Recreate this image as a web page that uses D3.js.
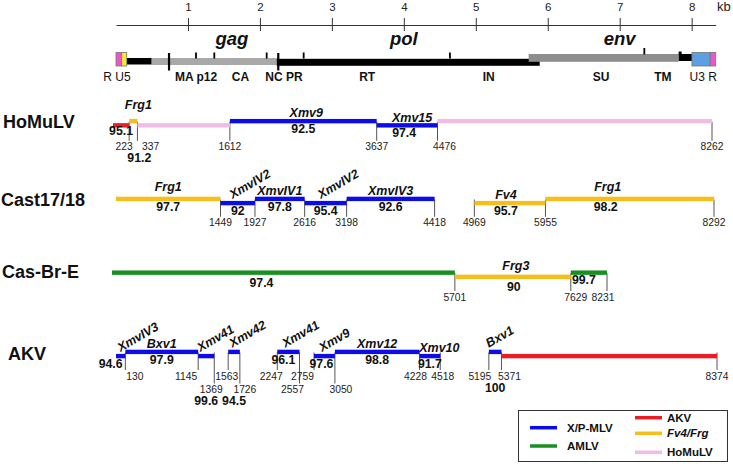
<!DOCTYPE html>
<html><head><meta charset="utf-8">
<script src="https://cdn.jsdelivr.net/npm/d3@7"></script>
<style>body{margin:0;background:#fff}svg{display:block}</style>
</head><body><script>
// ================= DATA =================
const axisTicksKb = [1, 2, 3, 4, 5, 6, 7, 8];
const axisUnit = "kb";

// genome map (kb)
const genomeRegionKind    = ["R", "U5", "leader", "gag", "pol", "env", "tail", "U3", "R"];
const genomeRegionStartKb = [0, 0.079, 0.149, 0.496, 2.233, 5.735, 7.820, 8.004, 8.255];
const genomeRegionEndKb   = [0.079, 0.149, 0.496, 2.233, 5.888, 7.820, 8.004, 8.255, 8.334];
const genomeTickKb   = [0.737, 1.112, 1.366, 2.094, 2.255, 2.608, 4.641, 7.342, 7.840];
const genomeTickKind = ["long", "short", "short", "short", "long", "short", "short", "env", "notch"];
const geneNames  = ["gag", "pol", "env"];
const geneNameKb = [1.61, 4.0, 7.0];
const proteinLabels  = ["R U5", "MA p12", "CA", "NC PR", "RT", "IN", "SU", "TM", "U3 R"];
const proteinLabelKb = [0.014, 1.112, 1.73, 2.335, 3.49, 5.18, 6.74, 7.6, 8.16];

const rowNames = ["HoMuLV", "Cast17/18", "Cas-Br-E", "AKV"];

const homulvStart    = [0, 223, 337, 1612, 3637, 4476];
const homulvEnd      = [223, 337, 1612, 3637, 4476, 8262];
const homulvSource   = ["AKV", "Fv4/Frg", "HoMuLV", "X/P-MLV", "X/P-MLV", "HoMuLV"];
const homulvGene     = ["", "Frg1", "", "Xmv9", "Xmv15", ""];
const homulvIdentity = ["95.1", "91.2", "", "92.5", "97.4", ""];
const homulvPositions = [223, 337, 1612, 3637, 4476, 8262];

const castStart    = [0, 1449, 1927, 2616, 3198, 4969, 5955];
const castEnd      = [1449, 1927, 2616, 3198, 4418, 5955, 8292];
const castSource   = ["Fv4/Frg", "X/P-MLV", "X/P-MLV", "X/P-MLV", "X/P-MLV", "Fv4/Frg", "Fv4/Frg"];
const castGene     = ["Frg1", "XmvIV2", "XmvIV1", "XmvIV2", "XmvIV3", "Fv4", "Frg1"];
const castIdentity = ["97.7", "92", "97.8", "95.4", "92.6", "95.7", "98.2"];
const castPositions = [1449, 1927, 2616, 3198, 4418, 4969, 5955, 8292];

const casbreStart    = [0, 5701, 7629];
const casbreEnd      = [5701, 7629, 8231];
const casbreSource   = ["AMLV", "Fv4/Frg", "AMLV"];
const casbreGene     = ["", "Frg3", ""];
const casbreIdentity = ["97.4", "90", "99.7"];
const casbrePositions = [5701, 7629, 8231];

const akvStart    = [0, 130, 1145, 1563, 2247, 2759, 3050, 4228, 5195, 5371];
const akvEnd      = [130, 1145, 1369, 1726, 2557, 3050, 4228, 4518, 5371, 8374];
const akvSource   = ["X/P-MLV", "X/P-MLV", "X/P-MLV", "X/P-MLV", "X/P-MLV", "X/P-MLV", "X/P-MLV", "X/P-MLV", "X/P-MLV", "AKV"];
const akvGene     = ["XmvIV3", "Bxv1", "Xmv41", "Xmv42", "Xmv41", "Xmv9", "Xmv12", "Xmv10", "Bxv1", ""];
const akvIdentity = ["94.6", "97.9", "99.6", "94.5", "96.1", "97.6", "98.8", "91.7", "100", ""];
const akvPositions = [130, 1145, 1369, 1563, 1726, 2247, 2557, 2759, 3050, 4228, 4518, 5195, 5371, 8374];

const legendNames = ["X/P-MLV", "AMLV", "AKV", "Fv4/Frg", "HoMuLV"];

// ================= STYLE / LAYOUT =================
const W = 733, H = 464;
const FONT = "'Liberation Sans', Arial, Helvetica, sans-serif";
const sourceColor = {
  "X/P-MLV": "#0c0ce8", "AMLV": "#17901f", "AKV": "#ec1c24",
  "Fv4/Frg": "#f7bd1a", "HoMuLV": "#f1bce3"
};
const regionStyle = {
  "R":      {y: 52.5, h: 13.5, fill: "#ee55cc", stroke: "#777"},
  "U5":     {y: 52.5, h: 13.5, fill: "#f4ee22", stroke: "#777"},
  "U3":     {y: 52.5, h: 13.5, fill: "#5d9fe0", stroke: "#777"},
  "leader": {y: 58,   h: 6.5,  fill: "#000"},
  "gag":    {y: 58,   h: 7,    fill: "#a8a8a8"},
  "pol":    {y: 58.8, h: 7,    fill: "#000"},
  "env":    {y: 54,   h: 7.8,  fill: "#8e8e8e"},
  "tail":   {y: 54,   h: 7,    fill: "#000"}
};
const regionOrder = ["leader", "gag", "pol", "env", "tail", "R", "U5", "U3"];
const tickStyle = {
  long:  {y1: 53, y2: 70.5, w: 2.2},
  short: {y1: 52.5, y2: 58.5, w: 1.8},
  env:   {y1: 48, y2: 54.5, w: 1.8},
  notch: {y1: 51.5, y2: 55, w: 3}
};
const LEVEL = 2.1, BAR_H = 4.4;

const rowLayout = [
  { base: 123.25, x0: 113, x1: 712, labelX: 3, labelDy: 4.5, posDy: 27,
    levels: [-1, 1, -1, 1, -1, 1],
    gene: {1: {dx: 5, dy: -8}, 3: {dx: 3}, 4: {dx: 5}},
    ident: {0: {dy: -2.5}, 1: {dx: 6, dy: 29.5}, 4: {dx: -3}},
    pos: {223: {anchor: "end", dx: 3.5}, 337: {anchor: "start", dx: 4.5}, 4476: {dx: 7}} },
  { base: 201, x0: 116, x1: 714, labelX: 1, labelDy: 5.3, posDy: 25.3,
    levels: [1, -1, 1, -1, 1, -1, 1],
    gene: {0: {dy: -4}, 1: {rot: true, dx: 12}, 3: {rot: true, dx: 16}, 5: {dx: -4}, 6: {dx: -22, dy: -4}},
    ident: {5: {dx: -4}, 6: {dx: -24}},
    pos: {} },
  { base: 274.75, x0: 112, x1: 607, labelX: 2, labelDy: 3.5, posDy: 25.75,
    levels: [1, -1, 1],
    gene: {1: {dx: 3, dy: -3}},
    ident: {0: {dx: -22, dy: 3}, 1: {dx: 1, dy: 2}, 2: {dx: -5}},
    pos: {7629: {dx: 5}, 8231: {dx: -4}} },
  { base: 354, x0: 116, x1: 717, labelX: 8, labelDy: 6, posDy: 25.5, pos2Dy: 39,
    levels: [-1, 1, -1, 1, 1, -1, 1, -1, 1, -1],
    gene: {0: {rot: true, dx: 4.5}, 2: {rot: true, dx: 2}, 3: {rot: true, dx: 4},
           4: {rot: true, dx: 8}, 5: {rot: true, dx: 8}, 7: {dx: 9.5}, 8: {rot: true, dx: 0}},
    ident: {0: {dx: -10}, 2: {dy: 37}, 3: {dy: 41.4}, 4: {dx: -5}, 5: {dx: -3}, 8: {dy: 28}},
    pos: {130: {anchor: "start", dx: 1}, 1145: {anchor: "end", dx: -1}, 1369: {row2: true, dx: -3},
          1563: {dx: -1.5}, 1726: {row2: true, dx: 5}, 2247: {dx: -6}, 2557: {row2: true, dx: -7},
          2759: {anchor: "end", dx: 0}, 3050: {row2: true, dx: 6}, 4228: {dx: -4}, 4518: {dx: 2.5},
          5195: {dx: -9}, 5371: {dx: 8}} }
];

const legendBox = {x: 518.5, y: 410.5, w: 209, h: 51};
const legendPos = [
  {x: 530, y: 427.7, tx: 37}, {x: 530, y: 446, tx: 37},
  {x: 635, y: 417.7, tx: 32}, {x: 635, y: 433.3, tx: 32}, {x: 635, y: 452.3, tx: 32}
];

// ================= DRAW =================
const svg = d3.select("body").append("svg")
  .attr("width", W).attr("height", H)
  .style("font-family", FONT);

// ---- top kb axis ----
const kx = d3.scaleLinear().domain([0, 8.334]).range([116, 715.7]);
const axis = d3.axisTop(kx).tickValues(axisTicksKb).tickSize(7).tickPadding(7)
  .tickSizeOuter(0).tickFormat(d3.format("d"));
const ag = svg.append("g").attr("transform", "translate(0,25)").call(axis);
ag.select(".domain").attr("stroke", "#333");
ag.selectAll(".tick line").attr("y1", 6).attr("y2", -7).attr("stroke", "#333");
ag.selectAll(".tick text").attr("font-size", 11.5).attr("fill", "#222").attr("font-family", FONT);
svg.append("text").attr("x", 717).attr("y", 11).attr("font-size", 13).attr("fill", "#222").text(axisUnit);

// ---- genome map ----
const regions = genomeRegionKind.map((k, i) => ({kind: k, s: genomeRegionStartKb[i], e: genomeRegionEndKb[i]}));
regions.sort((a, b) => regionOrder.indexOf(a.kind) - regionOrder.indexOf(b.kind));
svg.append("g").selectAll("rect").data(regions).join("rect")
  .attr("x", d => kx(d.s)).attr("width", d => kx(d.e) - kx(d.s))
  .attr("y", d => regionStyle[d.kind].y).attr("height", d => regionStyle[d.kind].h)
  .attr("fill", d => regionStyle[d.kind].fill)
  .attr("stroke", d => regionStyle[d.kind].stroke || "none")
  .attr("stroke-width", 0.8);
svg.append("g").selectAll("line").data(genomeTickKb.map((v, i) => ({v, k: genomeTickKind[i]}))).join("line")
  .attr("x1", d => kx(d.v)).attr("x2", d => kx(d.v))
  .attr("y1", d => tickStyle[d.k].y1).attr("y2", d => tickStyle[d.k].y2)
  .attr("stroke", "#000").attr("stroke-width", d => tickStyle[d.k].w);
svg.append("g").selectAll("text").data(geneNames).join("text")
  .attr("x", (d, i) => kx(geneNameKb[i])).attr("y", 44.5)
  .attr("text-anchor", "middle").attr("font-size", 18.5).attr("font-weight", "bold")
  .attr("font-style", "italic").attr("fill", "#111").text(d => d);
svg.append("g").selectAll("text").data(proteinLabels).join("text")
  .attr("x", (d, i) => kx(proteinLabelKb[i])).attr("y", 80.5)
  .attr("text-anchor", "middle").attr("font-size", 12)
  .attr("font-weight", d => (d === "R U5" || d === "U3 R") ? "normal" : "bold")
  .attr("fill", "#111").text(d => d);

// ---- rows ----
const rows = [
  {start: homulvStart, end: homulvEnd, source: homulvSource, gene: homulvGene, ident: homulvIdentity, pos: homulvPositions},
  {start: castStart, end: castEnd, source: castSource, gene: castGene, ident: castIdentity, pos: castPositions},
  {start: casbreStart, end: casbreEnd, source: casbreSource, gene: casbreGene, ident: casbreIdentity, pos: casbrePositions},
  {start: akvStart, end: akvEnd, source: akvSource, gene: akvGene, ident: akvIdentity, pos: akvPositions}
];

rows.forEach((row, r) => {
  const L = rowLayout[r];
  const x = d3.scaleLinear().domain([0, d3.max(row.end)]).range([L.x0, L.x1]);
  const g = svg.append("g");
  const segs = row.start.map((s, i) => ({
    i, s, e: row.end[i], src: row.source[i], gene: row.gene[i], ident: row.ident[i],
    yc: L.base - L.levels[i] * LEVEL
  }));

  // row name
  g.append("text").attr("x", L.labelX).attr("y", L.base + L.labelDy)
    .attr("font-size", 18).attr("font-weight", "bold").attr("fill", "#111").text(rowNames[r]);

  // boundary ticks
  const posData = row.pos.map(p => {
    const o = L.pos[p] || {};
    const by = L.base + (o.row2 ? L.pos2Dy : L.posDy);
    return {p, o, by};
  });
  g.append("g").selectAll("line").data(posData).join("line")
    .attr("x1", d => x(d.p)).attr("x2", d => x(d.p))
    .attr("y1", L.base - 1.5).attr("y2", d => d.by - 9.5)
    .attr("stroke", "#555").attr("stroke-width", 1);

  // bars
  g.append("g").selectAll("rect").data(segs).join("rect")
    .attr("x", d => x(d.s)).attr("width", d => x(d.e) - x(d.s))
    .attr("y", d => d.yc - BAR_H / 2).attr("height", BAR_H)
    .attr("fill", d => sourceColor[d.src]);

  // position labels
  g.append("g").selectAll("text").data(posData).join("text")
    .attr("x", d => x(d.p) + (d.o.dx || 0)).attr("y", d => d.by)
    .attr("text-anchor", d => d.o.anchor || "middle")
    .attr("font-size", 10.3).attr("fill", "#222").text(d => d.p);

  // gene names
  segs.filter(d => d.gene).forEach(d => {
    const o = L.gene[d.i] || {};
    const top = d.yc - BAR_H / 2;
    if (o.rot) {
      const tx = x(d.s) + (o.dx || 0), ty = top - 2;
      g.append("text").attr("transform", `translate(${tx},${ty}) rotate(-30)`)
        .attr("font-size", 12.5).attr("font-weight", "bold").attr("font-style", "italic")
        .attr("fill", "#111").text(d.gene);
    } else {
      g.append("text").attr("x", (x(d.s) + x(d.e)) / 2 + (o.dx || 0)).attr("y", top - 1.5 + (o.dy || 0))
        .attr("text-anchor", "middle").attr("font-size", 12.5).attr("font-weight", "bold")
        .attr("font-style", "italic").attr("fill", "#111").text(d.gene);
    }
  });

  // identity values
  g.append("g").selectAll("text").data(segs.filter(d => d.ident)).join("text")
    .attr("x", d => (x(d.s) + x(d.e)) / 2 + ((L.ident[d.i] || {}).dx || 0))
    .attr("y", d => d.yc + BAR_H / 2 + 9.5 + ((L.ident[d.i] || {}).dy || 0))
    .attr("text-anchor", "middle").attr("font-size", 12.3).attr("font-weight", "bold")
    .attr("fill", "#111").text(d => d.ident);
});

// ---- legend ----
const lg = svg.append("g");
lg.append("rect").attr("x", legendBox.x).attr("y", legendBox.y)
  .attr("width", legendBox.w).attr("height", legendBox.h)
  .attr("fill", "#fff").attr("stroke", "#333").attr("stroke-width", 1);
const items = lg.selectAll("g").data(legendNames).join("g")
  .attr("transform", (d, i) => `translate(${legendPos[i].x},${legendPos[i].y})`);
items.append("line").attr("x1", 0).attr("x2", 27).attr("y1", 0).attr("y2", 0)
  .attr("stroke", d => sourceColor[d]).attr("stroke-width", 3.5);
items.append("text").attr("x", (d, i) => legendPos[i].tx).attr("y", 4)
  .attr("font-size", 11.5).attr("font-weight", "bold")
  .attr("font-style", d => d === "Fv4/Frg" ? "italic" : "normal")
  .attr("fill", "#111").text(d => d);
</script></body></html>
